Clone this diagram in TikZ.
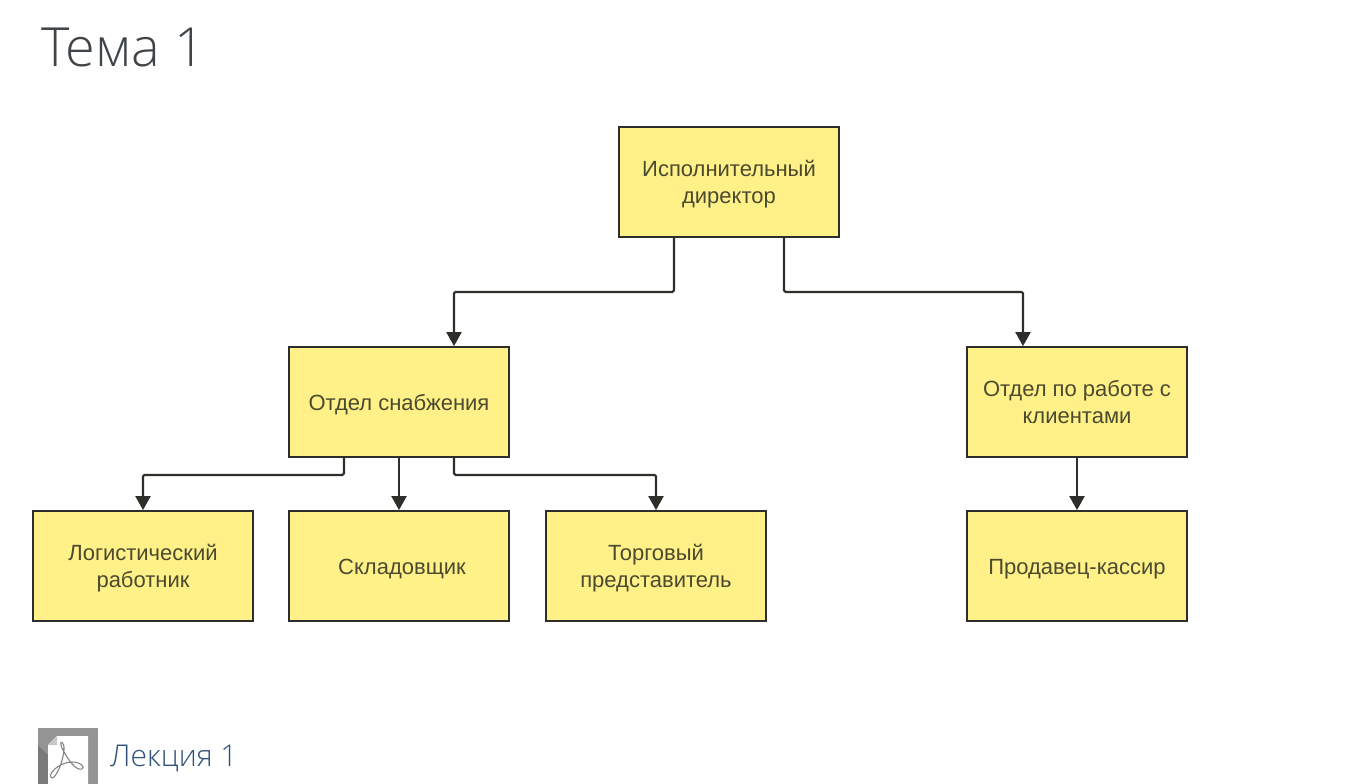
\documentclass[tikz,border=0pt]{standalone}
\usepackage{fontspec}
\setmainfont{Liberation Sans}
\newfontfamily\titlefont{Open Sans Light}
\usetikzlibrary{arrows.meta}
\definecolor{boxfill}{HTML}{FFF088}
\definecolor{boxline}{HTML}{2E2E2A}
\definecolor{boxtext}{HTML}{4A4A30}
\definecolor{titlecol}{HTML}{3E4448}
\definecolor{linkcol}{HTML}{2F5078}
\newcommand{\lift}[1]{\raisebox{-8pt}[0pt][0pt]{\begin{tabular}{@{}c@{}}#1\end{tabular}}}
\tikzset{
  orgbox/.style={draw=boxline,fill=boxfill,line width=1.8pt,minimum width=220pt,minimum height=110pt,inner sep=0pt,align=center,text=boxtext,font=\fontsize{22}{26.5}\selectfont},
  link/.style={draw=boxline,line width=2.2pt,rounded corners=1.5pt,-{Triangle[length=14pt,width=15pt]}}
}
\begin{document}
\begin{tikzpicture}[x=1pt,y=-1pt]
\useasboundingbox (0,0) rectangle (1352,784);
\node[anchor=west,font=\titlefont\fontsize{54}{60}\selectfont,text=titlecol,inner sep=0pt] (title) at (41,47) {Тема 1};
\node[orgbox] (dir) at (729,182) {\lift{Исполнительный\\директор}};
\node[orgbox] (sup) at (399,402) {\lift{Отдел снабжения}};
\node[orgbox] (cli) at (1077,402) {\lift{Отдел по работе с\\клиентами}};
\node[orgbox] (log) at (143,566) {\lift{Логистический\\работник}};
\node[orgbox] (wh) at (399,566) {\hspace*{6pt}\lift{Складовщик}};
\node[orgbox] (tr) at (656,566) {\lift{Торговый\\представитель}};
\node[orgbox] (sel) at (1077,566) {\lift{Продавец-кассир}};
\draw[link] ([xshift=-55pt]dir.south) -- ++(0,54) -| ([xshift=55pt]sup.north);
\draw[link] ([xshift=55pt]dir.south) -- ++(0,54) -| ([xshift=-54pt]cli.north);
\draw[link] ([xshift=-55pt]sup.south) -- ++(0,17) -| (log.north);
\draw[link] (sup.south) -- (wh.north);
\draw[link] ([xshift=55pt]sup.south) -- ++(0,17) -| (tr.north);
\draw[link] (cli.south) -- (sel.north);
% pdf icon
\fill[black!42] (38,728) rectangle (98,784);
\fill[black!52] (38,784) -- (38,745) -- (77,784) -- cycle;
\fill[white] (57,736) -- (88,736) -- (88,784) -- (48,784) -- (48,745) -- cycle;
\fill[black!22] (48,745) -- (57,736) -- (57,745) -- cycle;
\draw[black!48,line width=1.1pt,line join=round] (62,748) .. controls (58,738) and (65,742) .. (64,750) .. controls (63,762) and (56,778) .. (52,778) .. controls (46,776) and (58,762) .. (72,762) .. controls (80,762) and (86,767) .. (82,769) .. controls (76,771) and (68,760) .. (62,748) -- cycle;
\node[anchor=west,font=\titlefont\fontsize{30}{33}\selectfont,text=linkcol,inner sep=0pt] (lec) at (110,758) {Лекция 1};
\end{tikzpicture}
\end{document}
